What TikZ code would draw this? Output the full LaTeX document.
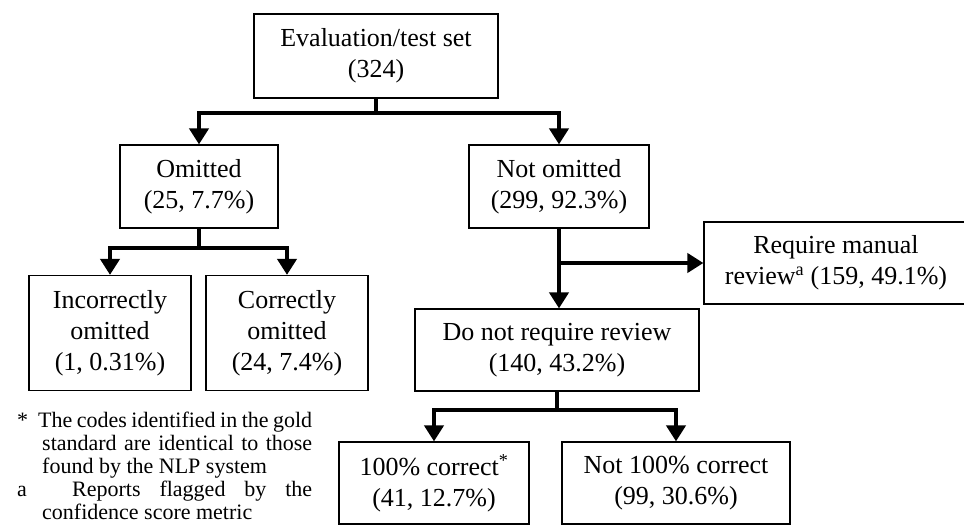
\documentclass[tikz,border=0pt]{standalone}
\usepackage{fontspec}
\setmainfont{Liberation Serif}
\usetikzlibrary{arrows.meta,calc}

\begin{document}
\begin{tikzpicture}[x=1pt,y=-1pt,
  box/.style={draw, line width=1.2pt, align=center, inner sep=0pt,
    font=\fontsize{26}{31}\selectfont},
  flow/.style={line width=4pt, -{Triangle[width=19pt,length=16pt]}},
  stem/.style={line width=4pt}]
\useasboundingbox (0,0) rectangle (964,525);

\node[box, minimum width=244pt, minimum height=84pt] (eval) at (376,56) {Evaluation/test set\\(324)};
\node[box, minimum width=158pt, minimum height=83pt] (omit) at (199,186.5) {Omitted\\(25, 7.7\%)};
\node[box, minimum width=180pt, minimum height=83pt] (notom) at (559,186.5) {Not omitted\\(299, 92.3\%)};
\node[box, minimum width=162pt, minimum height=115pt] (incor) at (110,333) {Incorrectly\\omitted\\(1, 0.31\%)};
\node[box, minimum width=162pt, minimum height=115pt] (cor) at (287,333) {Correctly\\omitted\\(24, 7.4\%)};
\node[box, minimum width=264pt, minimum height=82pt] (req) at (836,263) {Require manual\\review\textsuperscript{a} (159, 49.1\%)};
\node[box, minimum width=284pt, minimum height=82pt] (dnr) at (557,350) {Do not require review\\(140, 43.2\%)};
\node[box, minimum width=190pt, minimum height=82pt] (pc) at (434,483) {100\% correct\textsuperscript{*}\\(41, 12.7\%)};
\node[box, minimum width=228pt, minimum height=82pt] (npc) at (676,483) {Not 100\% correct\\(99, 30.6\%)};

\coordinate (s1) at (eval.south |- 0,113);
\coordinate (s2) at (omit.south |- 0,248);
\coordinate (s3) at (dnr.south |- 0,410);

\draw[stem] (eval.south) -- (s1);
\draw[flow] (s1) -| (omit.north); %%left
\draw[flow] (s1) -| (notom.north); %%right
\draw[stem] (omit.south) -- (s2);
\draw[flow] (s2) -| (incor.north);
\draw[flow] (s2) -| (cor.north);
\draw[flow] (notom.south) -- (notom.south |- dnr.north);
\draw[flow] (notom.south |- req.west) -- (req.west); %%to review
\draw[stem] (dnr.south) -- (s3);
\draw[flow] (s3) -| (pc.north);
\draw[flow] (s3) -| (npc.north);

\node[anchor=north west, inner sep=0pt, text width=295pt, align=justify,
  font=\fontsize{22}{23}\selectfont] (notes) at (17,412) {%
\noindent\hangindent=25pt\hangafter=1\makebox[21pt][l]{*}The codes identified in the gold\linebreak standard are identical to those\linebreak found by the NLP system\par
\noindent\hangindent=25pt\hangafter=1\makebox[55pt][l]{a}Reports flagged by the\linebreak confidence score metric\par};
\end{tikzpicture}
\end{document}
